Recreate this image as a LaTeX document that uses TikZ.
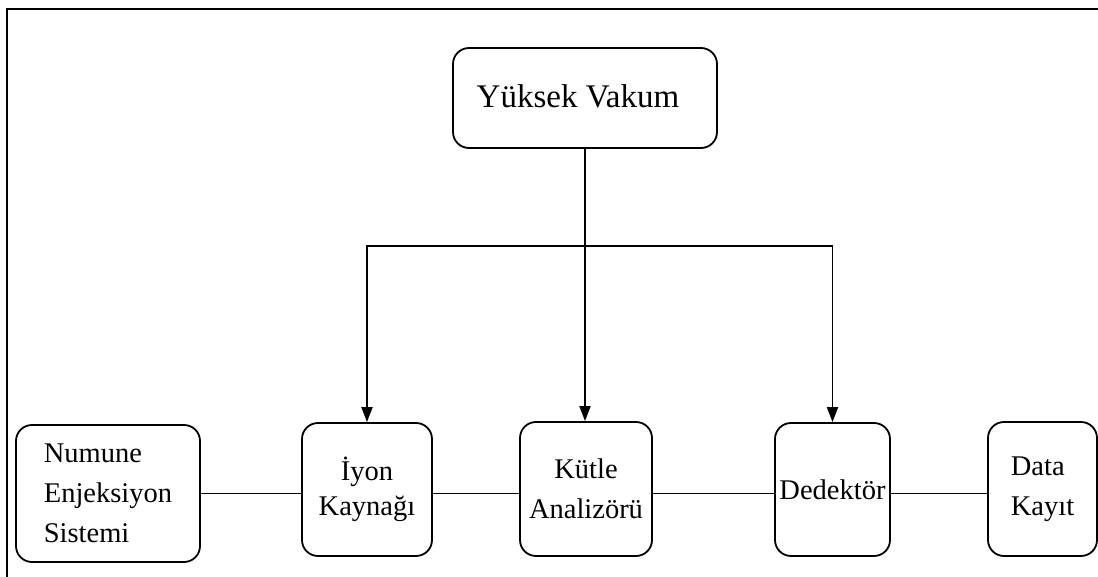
\documentclass[tikz,border=0pt]{standalone}
\usepackage{fontspec}
\setmainfont{Liberation Serif}
\usetikzlibrary{arrows.meta}

\tikzset{
  unit/.style={draw, line width=1.8pt, rounded corners=16pt, inner sep=0pt,
    font=\fontsize{28.5}{40}\selectfont},
  link/.style={line width=1.8pt},
  feed/.style={line width=1.8pt, -{Triangle[length=15pt,width=11pt]}},
  frame/.style={line width=2.8pt}
}

\begin{document}
\begin{tikzpicture}[x=1pt, y=-1pt]
  \useasboundingbox (0,0) rectangle (1098,577);

  % outer frame (top and left edges)
  \draw[frame] (7,577) -- (7,9) -- (1098,9);

  % vacuum unit on top, label set a little left of and above centre
  \node[unit, minimum width=264pt, minimum height=100pt,
        font=\fontsize{33}{40}\selectfont] (vac) at (585,98)
    {\hspace*{-14pt}\raisebox{3pt}{Yüksek Vakum}};

  % chain of instrument units
  \node[unit, minimum width=184pt, minimum height=137pt, align=left]
    (num) at (108,493.5) {Numune\\Enjeksiyon\\Sistemi};
  \node[unit, minimum width=130pt, minimum height=133pt, align=center]
    (ion) at (367,489.5) {\raisebox{-5pt}{\shortstack{İyon\\[6pt]Kaynağı}}};
  \node[unit, minimum width=132pt, minimum height=134pt, align=center]
    (kut) at (586,489) {Kütle\\Analizörü};
  \node[unit, minimum width=115pt, minimum height=133pt, align=center]
    (ded) at (832.5,489.5) {Dedektör};
  \node[unit, minimum width=109pt, minimum height=134pt, align=left]
    (dat) at (1042.5,489) {Data\\Kayıt};

  % vacuum distribution
  \coordinate (bus) at (585,246);
  \draw[link] (vac.south) -- (bus);
  \draw[feed] (bus) -| (ion.north);
  \draw[feed] (bus) -- (bus |- kut.north);
  \draw[feed] (bus) -| (ded.north);

  % sample path
  \draw[link] (num.east) -- (ion.west |- num.east);
  \draw[link] (ion.east |- num.east) -- (kut.west |- num.east);
  \draw[link] (kut.east |- num.east) -- (ded.west |- num.east);
  \draw[link] (ded.east |- num.east) -- (dat.west |- num.east);
\end{tikzpicture}
\end{document}
